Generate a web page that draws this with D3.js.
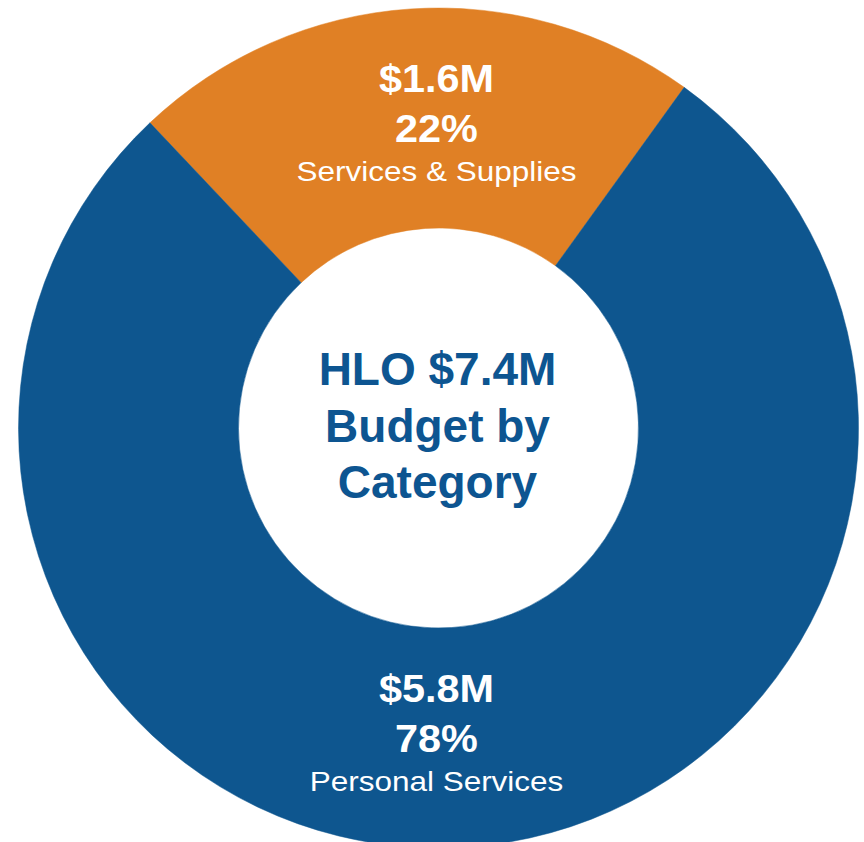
<!DOCTYPE html>
<html>
<head>
<meta charset="utf-8">
<script src="https://cdn.jsdelivr.net/npm/d3@7"></script>
<style>
  html, body { margin: 0; padding: 0; background: #ffffff; }
  svg { display: block; }
</style>
</head>
<body>
<svg id="chart" width="864" height="842"></svg>
<script>
// Budget categories and their shares
const categories = ["Services & Supplies", "Personal Services"];
const amounts = ["$1.6M", "$5.8M"];
const percents = [22, 78];
const colors = ["#E08025", "#0E568F"];
const centerTitle = ["HLO $7.4M", "Budget by", "Category"];

const width = 864, height = 842;
const cx = 438.5, cy = 428;
const outerR = 420, innerR = 200;
const startDeg = -43.4;

const svg = d3.select("#chart");
const g = svg.append("g").attr("transform", `translate(${cx},${cy})`);

const data = categories.map((c, i) => ({ name: c, amount: amounts[i], pct: percents[i], color: colors[i] }));

const pie = d3.pie()
  .sort(null)
  .value(d => d.pct)
  .startAngle(startDeg * Math.PI / 180)
  .endAngle(startDeg * Math.PI / 180 + 2 * Math.PI);

const arc = d3.arc().innerRadius(innerR).outerRadius(outerR);

const arcs = pie(data);

g.selectAll("path.slice")
  .data(arcs)
  .join("path")
  .attr("class", "slice")
  .attr("d", arc)
  .attr("fill", d => d.data.color)
  .attr("stroke", d => d.data.color)
  .attr("stroke-width", 0.5);

// Slice labels: amount, percent and category name stacked in the ring
const labelR = 305;
const font = "'Liberation Sans', Arial, Helvetica, sans-serif";
arcs.forEach(a => {
  const mid = (a.startAngle + a.endAngle) / 2;
  const dir = Math.cos(mid) >= 0 ? -1 : 1;
  const y0 = dir * labelR;
  const lg = g.append("g").attr("transform", `translate(-2,${y0})`);
  const lines = [
    { text: a.data.amount, dy: -31, size: 38, weight: "bold", sx: 1.09 },
    { text: a.data.pct + "%", dy: 19, size: 38, weight: "bold", sx: 1.09 },
    { text: a.data.name, dy: 58, size: 27.5, weight: "normal", sx: 1.145 }
  ];
  lines.forEach(l => {
    lg.append("text")
      .attr("transform", `translate(0,${l.dy}) scale(${l.sx},1)`)
      .attr("text-anchor", "middle")
      .attr("fill", "#ffffff")
      .attr("font-family", font)
      .attr("font-size", l.size)
      .attr("font-weight", l.weight)
      .text(l.text);
  });
});

// Centre title
const cg = g.append("g");
centerTitle.forEach((t, i) => {
  cg.append("text")
    .attr("x", -1)
    .attr("y", -43 + i * 56.5)
    .attr("text-anchor", "middle")
    .attr("fill", "#0D5591")
    .attr("font-family", font)
    .attr("font-size", 46)
    .attr("font-weight", "bold")
    .text(t);
});
</script>
</body>
</html>
